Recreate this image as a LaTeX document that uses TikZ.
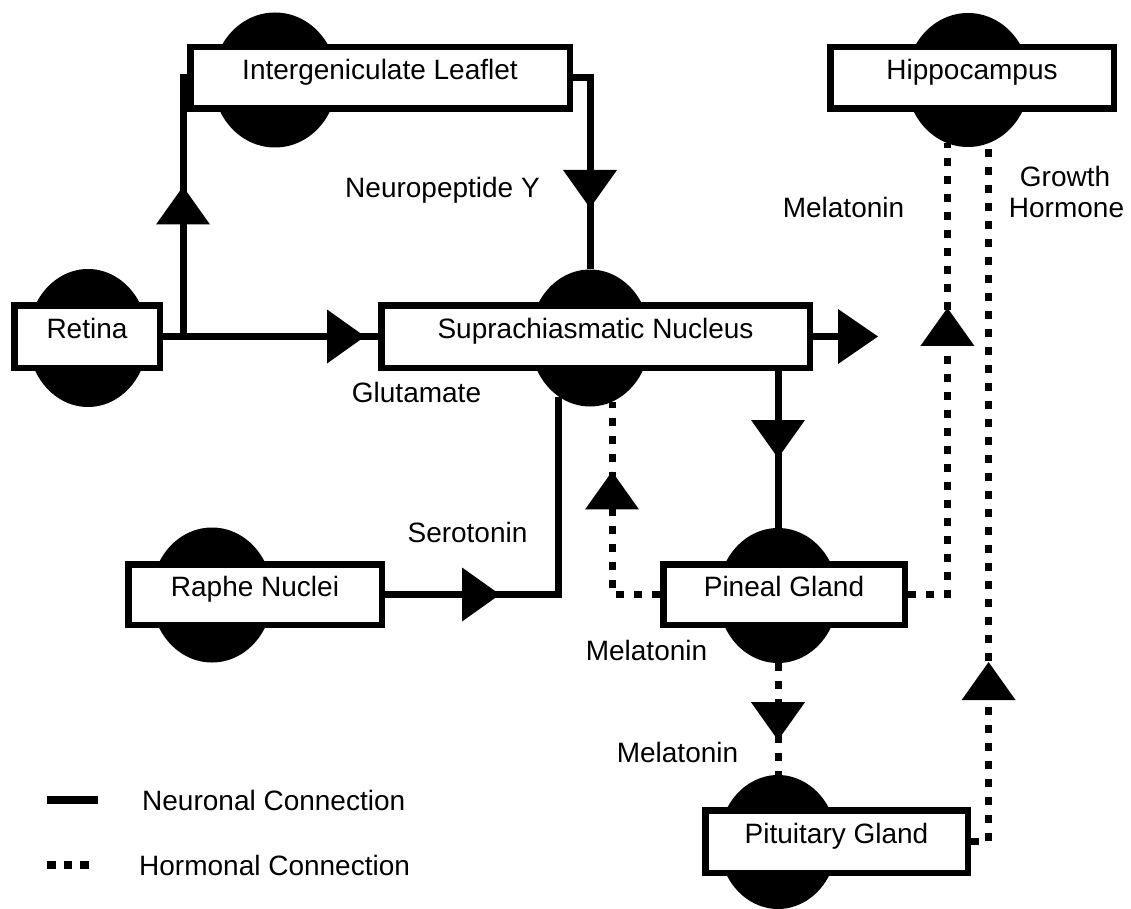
\documentclass[tikz,border=0pt]{standalone}
\usepackage{fontspec}
\setmainfont{Liberation Sans}
\usetikzlibrary{shapes.geometric,arrows.meta,decorations.markings}
\tikzset{
  tri/.tip={Triangle[length=38pt,width=54pt,line width=0pt]},
  box/.style={rectangle, draw=black, line width=6.5pt, fill=white, inner sep=0pt,
    text height=20pt, text depth=16pt, font=\fontsize{28}{32}\selectfont},
  blob/.style={ellipse, fill=black, draw=none, inner sep=0pt},
  neuro/.style={line width=7pt},
  hormo/.style={line width=7pt, dash pattern=on 8pt off 10pt},
  arr/.style={postaction={decorate}, decoration={markings, mark=at position #1 with {\arrow{tri}}}},
  lbl/.style={inner sep=0pt, anchor=base, font=\fontsize{28}{32}\selectfont},
  lglbl/.style={inner sep=0pt, anchor=base west, font=\fontsize{28}{32}\selectfont}
}
\begin{document}
\begin{tikzpicture}[x=1pt,y=-1pt]
\useasboundingbox (0,0) rectangle (1131,909);
% ellipses behind the boxes
\node[blob, minimum width=120pt, minimum height=138pt] (retinaE) at (88,338) {};
\node[blob, minimum width=124pt, minimum height=135pt] (iglE) at (275,80) {};
\node[blob, minimum width=120pt, minimum height=137pt] (scnE) at (590,338) {};
\node[blob, minimum width=121pt, minimum height=135pt] (rapheE) at (212,595) {};
\node[blob, minimum width=120pt, minimum height=135pt] (pinealE) at (778,595.5) {};
\node[blob, minimum width=118pt, minimum height=134pt] (pitE) at (778,842) {};
\node[blob, minimum width=123pt, minimum height=134pt] (hippoE) at (968,80) {};
% boxes
\node[box, minimum width=145.5pt, minimum height=62.5pt] (retina) at (87,336.5) {Retina};
\node[box, minimum width=379.5pt, minimum height=61.5pt] (igl) at (380,78) {Intergeniculate Leaflet};
\node[box, minimum width=428.5pt, minimum height=62.5pt] (scn) at (595.5,336.5) {Suprachiasmatic Nucleus};
\node[box, minimum width=253.5pt, minimum height=60.5pt] (raphe) at (255,594.5) {Raphe Nuclei};
\node[box, minimum width=241.5pt, minimum height=60.5pt] (pineal) at (784,594.5) {Pineal Gland};
\node[box, minimum width=262.5pt, minimum height=62.5pt] (pit) at (836.5,841.5) {Pituitary Gland};
\node[box, minimum width=283.5pt, minimum height=61.5pt] (hippo) at (972,78) {Hippocampus};
% free coordinates
\coordinate (j1) at (183,336.5);
\coordinate (scnOut) at (878,336.5);
% neuronal connections
\draw[neuro, arr=202pt] (retina.east) -- (retina.east -| scn.west);
\draw[neuro, arr=150pt] (j1) |- (igl.west);
\draw[neuro, arr=147pt] (igl.east) -| (scnE.north);
\draw[neuro, -{Triangle[length=40pt,width=55pt,line width=0pt]}] (scn.east) -- (scnOut);
\draw[neuro, arr=87pt] (pinealE.north |- scn.south) -- (pinealE.north);
\draw[neuro, arr=115pt] (raphe.east) -| (scnE.242);
% hormonal connections
\draw[hormo, arr=171pt] (pineal.west) -| (scnE.289);
\draw[hormo, arr=326pt] (pineal.east) -| (hippoE.252);
\draw[hormo, arr=77pt] (pinealE.south) -- (pitE.north);
\draw[hormo, arr=197pt] (pit.east) -| (hippoE.288);
% labels
\node[lbl] (lnpy) at (442.5,198) {Neuropeptide Y};
\node[lbl] (lglu) at (416.5,402) {Glutamate};
\node[lbl] (lser) at (467.5,542) {Serotonin};
\node[lbl] (lmel1) at (646.5,660) {Melatonin};
\node[lbl] (lmel2) at (677.5,762) {Melatonin};
\node[lbl] (lmel3) at (843.5,218) {Melatonin};
\node[lbl] (lgh1) at (1065,187) {Growth};
\node[lbl] (lgh2) at (1066.5,218) {Hormone};
% legend
\coordinate (lg1a) at (47,800);
\coordinate (lg1b) at (98,800);
\coordinate (lg2a) at (47,865);
\coordinate (lg2b) at (89,865);
\draw[line width=8pt] (lg1a) -- (lg1b);
\draw[line width=8pt, dash pattern=on 8.5pt off 8pt] (lg2a) -- (lg2b);
\node[lglbl] (lgn) at (142,810) {Neuronal Connection};
\node[lglbl] (lgh) at (139,875) {Hormonal Connection};
\end{tikzpicture}
\end{document}
